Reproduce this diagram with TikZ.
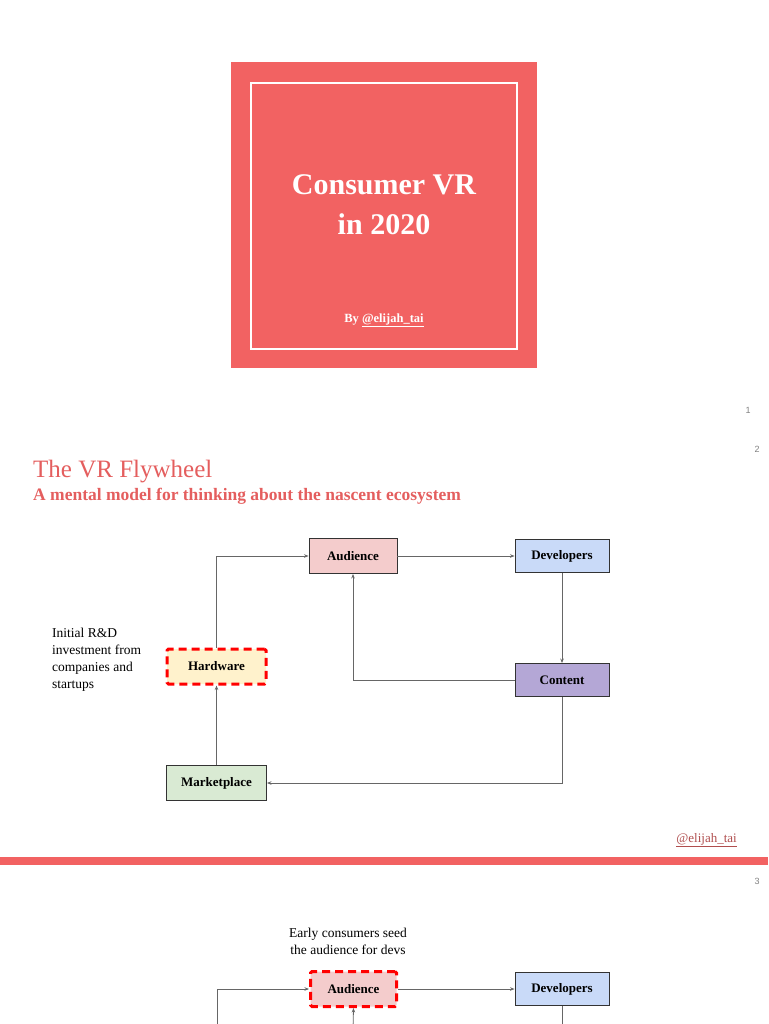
\documentclass[tikz,border=0pt]{standalone}
\usepackage{fontspec}
\setmainfont{Liberation Serif}
\newfontfamily\numfont{Liberation Sans}
\usepackage{tikz}
\usetikzlibrary{arrows.meta}

\definecolor{slidered}{RGB}{242,98,98}
\definecolor{titlered}{RGB}{228,94,94}
\definecolor{linkred}{RGB}{176,78,78}
\definecolor{audfill}{HTML}{F4CCCC}
\definecolor{devfill}{HTML}{C9DAF8}
\definecolor{contfill}{HTML}{B4A7D6}
\definecolor{hwfill}{HTML}{FFF2CC}
\definecolor{mktfill}{HTML}{D9EAD3}
\definecolor{edgegray}{HTML}{666666}
\definecolor{boxline}{HTML}{333333}

\tikzset{
  box/.style={draw=boxline, line width=0.9pt, minimum width=94pt, minimum height=33pt,
    inner sep=0pt, font=\fontsize{13}{15}\selectfont\bfseries},
  dashbox/.style={box, draw=red, line width=3pt, dash pattern=on 8pt off 5pt,
    rounded corners=1.5pt},
  flow/.style={draw=edgegray, line width=0.8pt, -{Stealth[length=4.5pt,width=3.5pt]}},
  plain/.style={draw=edgegray, line width=0.8pt},
  note/.style={font=\fontsize{13.5}{17}\selectfont, inner sep=0pt},
  pagenum/.style={font=\numfont\fontsize{9}{10}\selectfont, text=gray},
}

\begin{document}
\begin{tikzpicture}[x=1pt, y=-1pt]
  \useasboundingbox (0,0) rectangle (768,1024);
  \clip (0,0) rectangle (768,1024);

  % cover slide
  \fill[slidered] (231,62) rectangle (537,368);
  \draw[white, line width=2pt] (251,83) rectangle (517,349);
  \node[text=white, font=\fontsize{30}{36}\selectfont\bfseries, anchor=base] (cover1) at (384,195) {Consumer VR};
  \node[text=white, font=\fontsize{30}{36}\selectfont\bfseries, anchor=base] (cover2) at (384,234) {in 2020};
  \node[text=white, font=\fontsize{12.5}{14}\selectfont\bfseries, anchor=base] (byline) at (384,322) {By \underline{@elijah\_tai}};
  \node[pagenum] (p1) at (748,410) {1};

  % flywheel slide
  \node[pagenum] (p2) at (757,449) {2};
  \node[text=titlered, font=\fontsize{25}{28}\selectfont, anchor=base west, inner sep=0pt] (title) at (33,477) {The VR Flywheel};
  \node[text=titlered, font=\fontsize{17.5}{20}\selectfont\bfseries, anchor=base west, inner sep=0pt] (subtitle) at (33,500) {A mental model for thinking about the nascent ecosystem};

  \node[box, fill=audfill, minimum width=88pt, minimum height=35pt] (aud) at (353,556) {Audience};
  \node[box, fill=devfill] (dev) at (562,556) {Developers};
  \node[box, fill=contfill] (cont) at (562,680) {Content};
  \node[dashbox, fill=hwfill, minimum width=99pt, minimum height=35pt] (hw) at (216.5,666.5) {Hardware};
  \node[box, fill=mktfill, minimum width=100pt, minimum height=35pt] (mkt) at (216.5,783) {Marketplace};

  \draw[flow] (hw.north) |- (aud.west);
  \draw[flow] (aud.east) -- (dev.west);
  \draw[flow] (dev.south) -- (cont.north);
  \draw[flow] (cont.west) -| (aud.south);
  \draw[flow] (cont.south) |- (mkt.east);
  \draw[flow] (mkt.north) -- (hw.south);

  \node[note, align=left, anchor=north west] (rnd) at (52,628) {Initial R\&D\\investment from\\companies and\\startups};

  \node[text=linkred, font=\fontsize{13}{15}\selectfont, anchor=base east, inner sep=0pt] (handle) at (737,842) {\underline{@elijah\_tai}};
  \fill[slidered] (0,857) rectangle (768,865);

  % next slide, cut off by the page
  \node[pagenum] (p3) at (757,881) {3};
  \node[note, align=center, anchor=north] (seed) at (348,928) {Early consumers seed\\the audience for devs};
  \node[dashbox, fill=audfill, minimum width=86pt, minimum height=35pt] (aud3) at (353.5,989) {Audience};
  \node[box, fill=devfill] (dev3) at (562,989) {Developers};
  \coordinate (hw3) at (217,1030);
  \coordinate (cont3) at (353,1030);
  \coordinate (devdown) at (562,1030);

  \draw[flow] (hw3) |- (aud3.west);
  \draw[flow] (aud3.east) -- (dev3.west);
  \draw[flow] (cont3) -- (aud3.south);
  \draw[plain] (dev3.south) -- (devdown);
\end{tikzpicture}
\end{document}
